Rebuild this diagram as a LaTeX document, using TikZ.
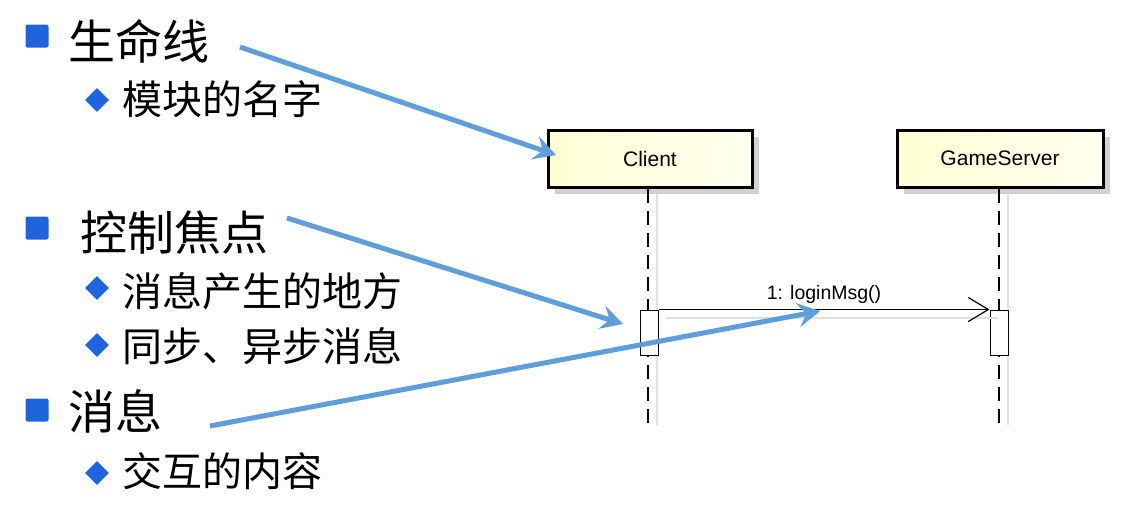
\documentclass[tikz,border=0pt]{standalone}
\usepackage{fontspec}
\newfontfamily\cjk{Noto Sans CJK SC}
\newfontfamily\umlfont{Liberation Sans}
\usetikzlibrary{arrows.meta,shapes.geometric}
\definecolor{bulletblue}{RGB}{30,100,220}
\definecolor{arrowblue}{RGB}{95,158,218}
\definecolor{boxyellowA}{RGB}{255,255,212}
\definecolor{boxyellowB}{RGB}{255,255,240}
\tikzset{
  titletext/.style={anchor=west,inner sep=0pt,font=\cjk\fontsize{47}{50}\selectfont},
  subtext/.style={anchor=west,inner sep=0pt,font=\cjk\fontsize{40}{43}\selectfont},
  sqbullet/.style={fill=bulletblue,minimum size=23pt,inner sep=0pt,rounded corners=2pt},
  dmbullet/.style={fill=bulletblue,diamond,minimum size=24pt,inner sep=0pt},
  pointer/.style={draw=arrowblue,line width=5pt,-{Stealth[length=22pt,width=24pt,inset=8pt]}},
  umlbox/.style={draw=black,line width=3pt,left color=boxyellowA,right color=boxyellowB,
     minimum width=204pt,minimum height=57pt,inner sep=0pt,font=\umlfont\fontsize{21}{24}\selectfont},
  boxshadow/.style={fill=black!18,draw=none},
  lifeline/.style={draw=black,line width=1.2pt,dash pattern=on 14pt off 8pt},
  lifeshadow/.style={draw=black!12,line width=1.5pt},
  activation/.style={draw=black,fill=white,line width=1pt,minimum width=18pt,minimum height=45pt,inner sep=0pt},
  msgline/.style={draw=black,line width=1pt,-{Straight Barb[length=20pt,width=24pt,line width=1.2pt]}},
  msgshadow/.style={draw=black!12,line width=2pt},
}
\begin{document}
\begin{tikzpicture}[x=1pt,y=-1pt]
\useasboundingbox (0,0) rectangle (1128,515);
\fill[white] (0,0) rectangle (1128,515);
% left text
\node[sqbullet] (b1) at (37,36) {};
\node[titletext] (t1) at (68,41) {生命线};
\node[dmbullet] (d1) at (97,100) {};
\node[subtext] (s1) at (122,99) {模块的名字};
\node[sqbullet] (b2) at (37,228) {};
\node[titletext] (t2) at (80,233) {控制焦点};
\node[dmbullet] (d2) at (97,288) {};
\node[subtext] (s2) at (122,291) {消息产生的地方};
\node[dmbullet] (d3) at (97,345) {};
\node[subtext] (s3) at (122,346) {同步、异步消息};
\node[sqbullet] (b3) at (37,410) {};
\node[titletext] (t3) at (68,411) {消息};
\node[dmbullet] (d4) at (97,473) {};
\node[subtext] (s4) at (122,471) {交互的内容};
% UML shadows
\fill[boxshadow] (555,137) rectangle (759,194);
\fill[boxshadow] (904,137) rectangle (1110,194);
\draw[lifeshadow] (657,194) -- (657,425);
\draw[lifeshadow] (1008,194) -- (1008,425);
% boxes
\node[umlbox] (client) at (650,158.5) {Client};
\node[umlbox,minimum width=206pt] (server) at (1000,158.5) {GameServer};
\coordinate (cend) at (648,425);
\coordinate (send) at (999,425);
\draw[lifeline] (648,189) -- (cend);
\draw[lifeline] (999,189) -- (send);
\node[activation] (ca) at (649,332.5) {};
\node[activation] (sa) at (999,332.5) {};
\draw[msgshadow] (666,318) -- (998,318);
\draw[msgline] (ca.north east) -- (sa.north west) node[midway,above=2pt,font=\umlfont\fontsize{19.5}{22}\selectfont,text=black] {1: loginMsg()};
% pointers
\coordinate (p1s) at (240,47);
\coordinate (p1e) at (556,155);
\coordinate (p2s) at (287,218);
\coordinate (p2e) at (623,324);
\coordinate (p3s) at (210,426);
\coordinate (p3e) at (820,311);
\draw[pointer] (p1s) -- (p1e);
\draw[pointer] (p2s) -- (p2e);
\draw[pointer] (p3s) -- (p3e);
\end{tikzpicture}
\end{document}
